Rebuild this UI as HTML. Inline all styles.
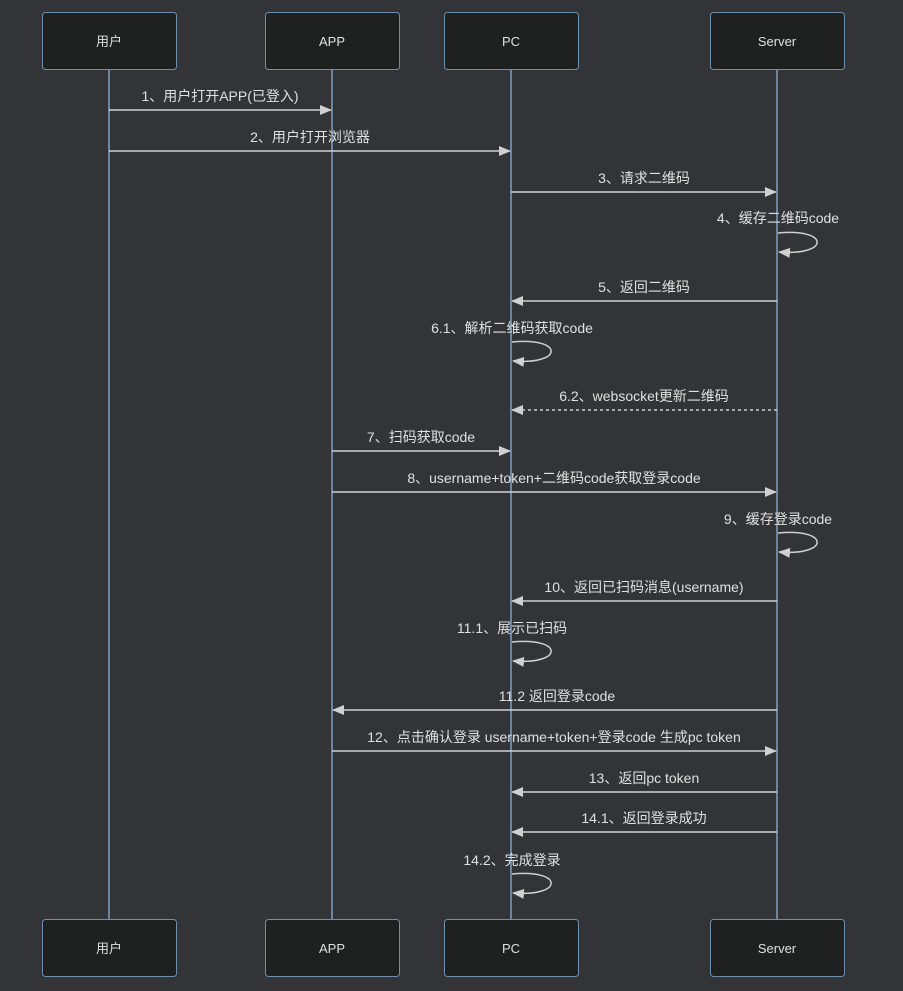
<!DOCTYPE html>
<html><head><meta charset="utf-8"><style>
html,body{margin:0;padding:0;background:#333438;}
svg{display:block;}
text{font-family:"Liberation Sans","Noto Sans CJK SC",sans-serif;fill:#e0e0e0;}
</style></head><body>
<svg width="903" height="991" viewBox="0 0 903 991" xmlns="http://www.w3.org/2000/svg">
<defs>
<marker id="a" markerWidth="12" markerHeight="10" refX="11" refY="5" orient="auto" markerUnits="userSpaceOnUse">
<path d="M0,0 L12,5 L0,10 z" fill="#d0d0d0"/></marker>
</defs>
<rect width="903" height="991" fill="#333438"/>
<g stroke="#7fa1c6" stroke-width="1.5">
<line x1="109" y1="70" x2="109" y2="919"/>
<line x1="332" y1="70" x2="332" y2="919"/>
<line x1="511" y1="70" x2="511" y2="919"/>
<line x1="777" y1="70" x2="777" y2="919"/>
</g>
<g fill="#1f2020" stroke="#6f8fae" stroke-width="1">
<rect x="42.5" y="12.5" width="134" height="57" rx="3"/>
<rect x="265.5" y="12.5" width="134" height="57" rx="3"/>
<rect x="444.5" y="12.5" width="134" height="57" rx="3"/>
<rect x="710.5" y="12.5" width="134" height="57" rx="3"/>
<rect x="42.5" y="919.5" width="134" height="57" rx="3"/>
<rect x="265.5" y="919.5" width="134" height="57" rx="3"/>
<rect x="444.5" y="919.5" width="134" height="57" rx="3"/>
<rect x="710.5" y="919.5" width="134" height="57" rx="3"/>
</g>
<g font-size="13" text-anchor="middle">
<text x="109" y="46">用户</text><text x="332" y="46">APP</text><text x="511" y="46">PC</text><text x="777" y="46">Server</text>
<text x="109" y="953">用户</text><text x="332" y="953">APP</text><text x="511" y="953">PC</text><text x="777" y="953">Server</text>
</g>
<g stroke="#d0d0d0" stroke-width="1.5" fill="none" marker-end="url(#a)">
<line x1="109" y1="110" x2="331" y2="110"/>
<line x1="109" y1="151" x2="510" y2="151"/>
<line x1="511" y1="192" x2="776" y2="192"/>
<path d="M778,233 C830,228 830,256 779,252"/>
<line x1="777" y1="301" x2="512" y2="301"/>
<path d="M512,342 C564,337 564,365 513,361"/>
<line x1="777" y1="410" x2="512" y2="410" stroke-dasharray="3,3"/>
<line x1="332" y1="451" x2="510" y2="451"/>
<line x1="332" y1="492" x2="776" y2="492"/>
<path d="M778,533 C830,528 830,556 779,552"/>
<line x1="777" y1="601" x2="512" y2="601"/>
<path d="M512,642 C564,637 564,665 513,661"/>
<line x1="777" y1="710" x2="333" y2="710"/>
<line x1="332" y1="751" x2="776" y2="751"/>
<line x1="777" y1="792" x2="512" y2="792"/>
<line x1="777" y1="832" x2="512" y2="832"/>
<path d="M512,874 C564,869 564,897 513,893"/>
</g>
<g font-size="14" text-anchor="middle">
<text x="220" y="101">1、用户打开APP(已登入)</text>
<text x="310" y="142">2、用户打开浏览器</text>
<text x="644" y="183">3、请求二维码</text>
<text x="778" y="223">4、缓存二维码code</text>
<text x="644" y="292">5、返回二维码</text>
<text x="512" y="333">6.1、解析二维码获取code</text>
<text x="644" y="401">6.2、websocket更新二维码</text>
<text x="421" y="442">7、扫码获取code</text>
<text x="554" y="483">8、username+token+二维码code获取登录code</text>
<text x="778" y="524">9、缓存登录code</text>
<text x="644" y="592">10、返回已扫码消息(username)</text>
<text x="512" y="633">11.1、展示已扫码</text>
<text x="557" y="701">11.2 返回登录code</text>
<text x="554" y="742">12、点击确认登录 username+token+登录code 生成pc token</text>
<text x="644" y="783">13、返回pc token</text>
<text x="644" y="823">14.1、返回登录成功</text>
<text x="512" y="865">14.2、完成登录</text>
</g>
</svg>
</body></html>
